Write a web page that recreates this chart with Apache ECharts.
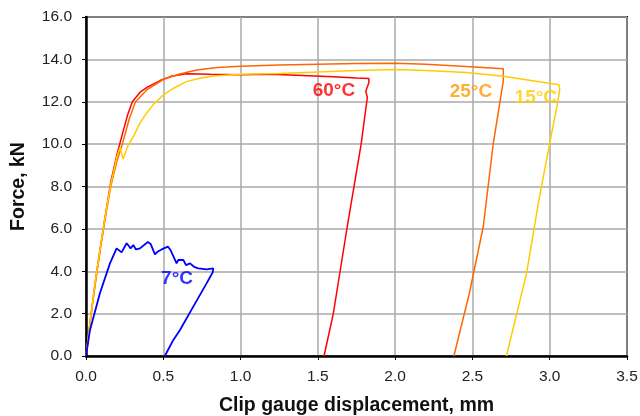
<!DOCTYPE html>
<html>
<head>
<meta charset="utf-8">
<script src="https://cdn.jsdelivr.net/npm/echarts@6/dist/echarts.min.js"></script>
<style>
  html, body { margin: 0; padding: 0; background: #fff; }
  #chart { width: 640px; height: 416px; }
</style>
</head>
<body>
<div id="chart"></div>
<script>
// clip gauge displacement (mm), force (kN)
var red60 = [[0,0],[0.01,0.6],[0.03,1.8],[0.06,3.5],[0.09,5.0],[0.12,6.4],[0.16,8.2],[0.2,9.5],[0.24,10.6],[0.27,11.4],[0.3,12.0],[0.35,12.45],[0.4,12.7],[0.48,13.0],[0.55,13.2],[0.65,13.32],[0.8,13.3],[1.0,13.28],[1.2,13.3],[1.4,13.24],[1.6,13.18],[1.75,13.12],[1.83,13.1],[1.83,12.9],[1.81,12.5],[1.82,12.2],[1.78,10.0],[1.69,6.1],[1.6,2.0],[1.54,0]];
var orange25 = [[0,0],[0.01,0.6],[0.03,1.8],[0.06,3.4],[0.09,4.9],[0.12,6.3],[0.16,8.0],[0.2,9.2],[0.235,10.0],[0.28,11.2],[0.32,12.0],[0.4,12.6],[0.5,13.05],[0.6,13.3],[0.716,13.5],[0.85,13.62],[1.0,13.68],[1.25,13.74],[1.5,13.77],[1.75,13.8],[2.0,13.82],[2.2,13.77],[2.46,13.66],[2.7,13.56],[2.7,13.0],[2.635,10.04],[2.57,6.1],[2.48,2.95],[2.38,0]];
var yellow15 = [[0,0],[0.01,0.6],[0.03,1.8],[0.06,3.5],[0.09,5.0],[0.12,6.4],[0.16,8.1],[0.2,9.4],[0.22,9.85],[0.24,9.3],[0.27,9.9],[0.306,10.35],[0.35,11.0],[0.39,11.45],[0.44,11.9],[0.5,12.32],[0.57,12.65],[0.65,12.95],[0.73,13.1],[0.82,13.21],[1.0,13.3],[1.25,13.33],[1.5,13.4],[1.75,13.47],[2.0,13.52],[2.2,13.48],[2.46,13.38],[2.7,13.2],[2.9,12.98],[3.06,12.8],[3.065,12.6],[3.05,11.9],[3.0,10.04],[2.93,7.36],[2.85,3.9],[2.72,0]];
var blue7 = [[0,0],[0.026,1.23],[0.09,2.96],[0.155,4.37],[0.198,5.08],[0.23,4.89],[0.263,5.32],[0.289,5.08],[0.306,5.24],[0.323,5.03],[0.349,5.08],[0.4,5.38],[0.418,5.29],[0.446,4.8],[0.463,4.92],[0.489,5.03],[0.53,5.16],[0.547,5.0],[0.586,4.37],[0.597,4.53],[0.63,4.53],[0.647,4.29],[0.673,4.37],[0.699,4.21],[0.726,4.14],[0.737,4.06],[0.78,4.09],[0.823,4.14],[0.82,3.95],[0.78,3.43],[0.694,2.33],[0.608,1.23],[0.565,0.76],[0.51,0]];

// temperature labels placed in data space
var labelText = ['60°C', '25°C', '15°C', '7°C'];
var labelX = [1.604, 2.49, 2.91, 0.589];
var labelY = [12.5, 12.48, 12.2, 3.66];
var labelColor = ['#ff0000', '#ff9900', '#ffcc00', '#0000ff'];

var font = '"Liberation Sans", Arial, sans-serif';

function lineSeries(name, data, color, width) {
  return {
    name: name,
    type: 'line',
    data: data,
    showSymbol: false,
    symbol: 'none',
    animation: false,
    lineStyle: { color: color, width: width },
    z: 3
  };
}

var labelData = labelText.map(function (t, i) {
  return {
    value: [labelX[i], labelY[i]],
    name: t,
    label: { color: labelColor[i] }
  };
});

var chart = echarts.init(document.getElementById('chart'));
chart.setOption({
  backgroundColor: '#fff',
  animation: false,
  grid: {
    left: 86, right: 13, top: 17, bottom: 60,
    containLabel: false, outerBoundsMode: 'none',
    show: true, borderColor: '#000', borderWidth: 2
  },
  xAxis: {
    type: 'value', min: 0, max: 3.5, interval: 0.5,
    name: 'Clip gauge displacement, mm',
    nameLocation: 'middle', nameGap: 40,
    nameTextStyle: { fontFamily: font, fontWeight: 'bold', fontSize: 19.5, color: '#111' },
    axisLine: { lineStyle: { color: '#000', width: 2.5 } },
    axisTick: { show: true, length: 4, lineStyle: { color: '#000', width: 1 } },
    axisLabel: {
      fontFamily: font, fontSize: 15.5, color: '#222', margin: 13,
      formatter: function (v) { return v.toFixed(1); }
    },
    splitLine: { lineStyle: { color: '#aaaaaa', width: 1.5 } }
  },
  yAxis: {
    type: 'value', min: 0, max: 16, interval: 2,
    name: 'Force, kN',
    nameLocation: 'middle', nameGap: 57, nameRotate: 90,
    nameTextStyle: { fontFamily: font, fontWeight: 'bold', fontSize: 19.5, color: '#111' },
    axisLine: { show: true, lineStyle: { color: '#000', width: 2.5 } },
    axisTick: { show: true, length: 4, lineStyle: { color: '#000', width: 1 } },
    axisLabel: {
      fontFamily: font, fontSize: 15.5, color: '#222', margin: 14,
      formatter: function (v) { return v.toFixed(1); }
    },
    splitLine: { lineStyle: { color: '#aaaaaa', width: 1.5 } }
  },
  series: [
    lineSeries('60°C', red60, '#ff0000', 1.5),
    lineSeries('25°C', orange25, '#ff6600', 1.5),
    lineSeries('15°C', yellow15, '#ffcc00', 1.5),
    lineSeries('7°C', blue7, '#0000ff', 1.8),
    {
      type: 'scatter',
      data: labelData,
      symbolSize: 0,
      silent: true,
      z: 5,
      label: {
        show: true, position: 'inside',
        formatter: '{b}',
        fontFamily: font, fontWeight: 'bold', fontSize: 19
      }
    }
  ]
});
</script>
</body>
</html>
